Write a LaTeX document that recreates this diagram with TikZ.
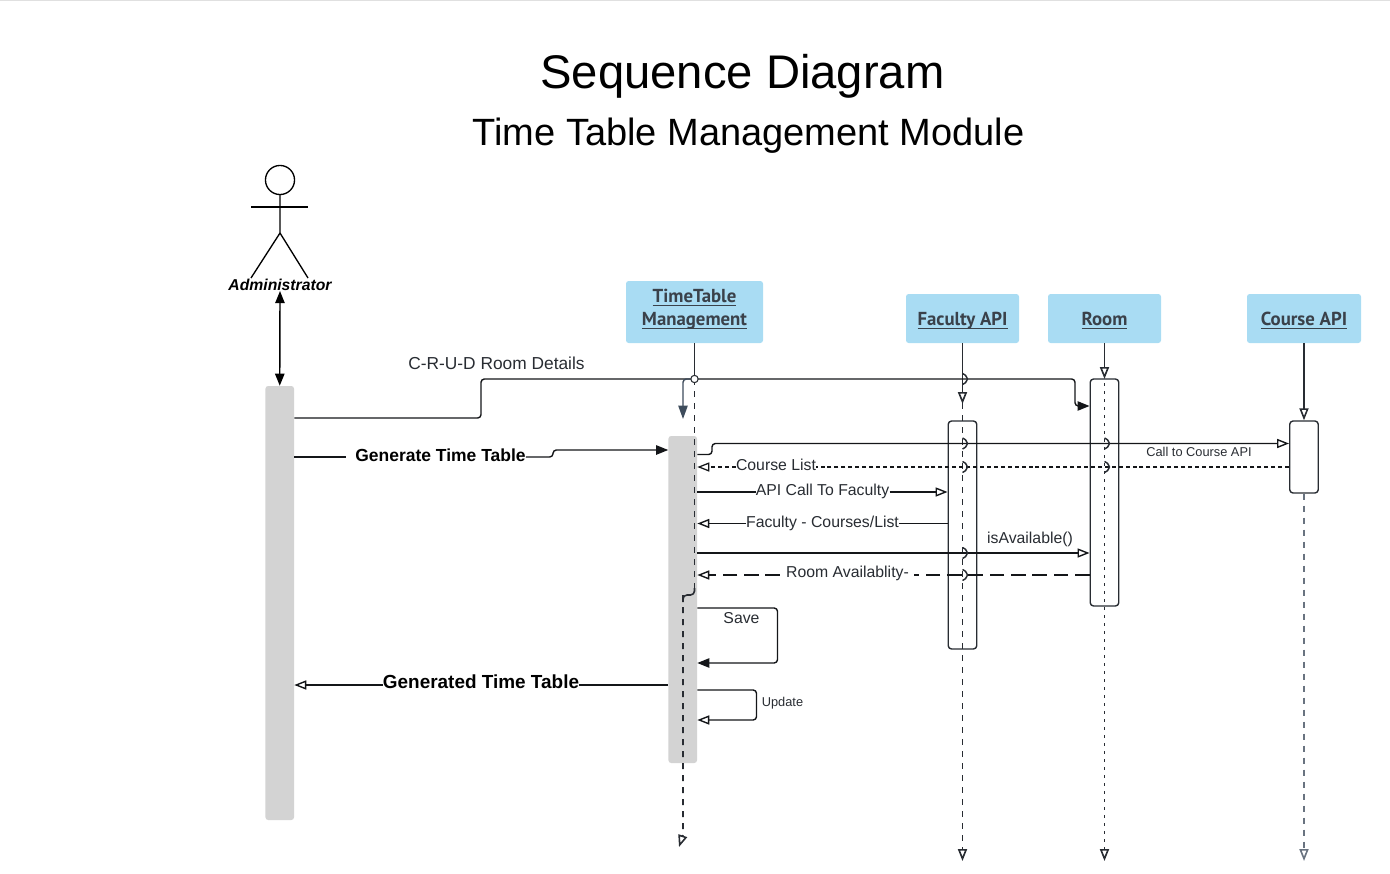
\documentclass[tikz,border=0pt]{standalone}
\usepackage{fontspec}
\setmainfont{Liberation Sans}
\newfontfamily\ptfont{PT Sans}
\usetikzlibrary{arrows.meta,positioning,calc}
\definecolor{laneBlue}{RGB}{169,220,243}
\definecolor{barGray}{RGB}{211,211,211}
\definecolor{inkDark}{RGB}{40,44,50}
\definecolor{laneInk}{RGB}{58,65,74}
\definecolor{slateInk}{RGB}{62,76,92}
\definecolor{courseInk}{RGB}{105,115,128}
\newcommand{\laneul}[2]{\raisebox{#1}[0pt][0pt]{\vtop{\hbox{\smash{#2}}\kern1.6pt\hrule height 0.75pt}}}

\begin{document}
\begin{tikzpicture}[
    x=0.75pt, y=-0.75pt,
    line join=round,
    lanebox/.style={
        rectangle, fill=laneBlue, rounded corners=2pt, inner sep=0pt,
        align=center, text=laneInk, font=\fontsize{14.1}{17.2}\selectfont\ptfont\bfseries
    },
    graybar/.style={
        rectangle, fill=barGray, rounded corners=2pt, inner sep=0pt, minimum width=21.4pt
    },
    openbar/.style={
        rectangle, draw=inkDark, line width=1.05pt, rounded corners=2.5pt, inner sep=0pt, minimum width=21.4pt
    },
    lbl/.style={font=\fontsize{11.85}{14}\selectfont, text=inkDark, inner sep=0pt},
    lblsmall/.style={font=\fontsize{9.6}{11}\selectfont, text=inkDark, inner sep=0pt},
    lblbold/.style={font=\fontsize{13.1}{16}\selectfont\bfseries, text=black, inner sep=0pt},
    msg/.style={line width=1.05pt, draw=inkDark!50!black, rounded corners=2.5pt},
    life/.style={line width=1.2pt, draw=inkDark},
    opentip/.style={-{Triangle[open,fill=white,length=9pt,width=6.8pt]}},
    filltip/.style={-{Triangle[length=9pt,width=7pt]}},
    jump/.style={line width=1.1pt, draw=inkDark}
]
    \useasboundingbox (0,0) rectangle (1390,874);
    \draw [black!12, line width=0.8pt] (0,0.5) -- (1390,0.5);

    % Title
    \node [font=\fontsize{35.4}{40}\selectfont, inner sep=0pt] (title) at (742.5,76) {Sequence Diagram};
    \node [font=\fontsize{28.5}{34}\selectfont, inner sep=0pt] (subtitle) at (748.5,135.5) {Time Table Management Module};

    % Actor
    \node [circle, draw=black, line width=1pt, minimum size=21.8pt, inner sep=0pt] (head) at (280,180) {};
    \coordinate (hip) at (280,233);
    \coordinate (armL) at (251,207);
    \coordinate (armR) at (308,207);
    \coordinate (legL) at (251,278);
    \coordinate (legR) at (308,278);
    \draw [line width=1pt] (head.south) -- (hip) -- (legL);
    \draw [line width=1pt] (hip) -- (legR);
    \draw [line width=1pt] (armL) -- (armR);
    \node [font=\fontsize{11.8}{14}\selectfont\bfseries\itshape, inner sep=0pt] (actor) at (280,285) {Administrator};

    % Gray activation bars
    \node [graybar, minimum height=325.5pt] (admbar) at (279.75,603) {};
    \node [graybar, minimum height=245.25pt] (ttbar) at (682.75,599.5) {};

    % Lane headers
    \node [lanebox, minimum width=102.75pt, minimum height=46.5pt] (ttbox) at (694.5,312) {\laneul{-1.5pt}{TimeTable}\\\laneul{-1.5pt}{Management}};
    \node [lanebox, minimum width=84.75pt, minimum height=36.75pt] (facbox) at (962.5,318.5) {\laneul{-5.6pt}{Faculty API}};
    \node [lanebox, minimum width=84.75pt, minimum height=36.75pt] (roombox) at (1104.5,318.5) {\laneul{-5.6pt}{Room}};
    \node [lanebox, minimum width=85.5pt, minimum height=36.75pt] (coursebox) at (1304,318.5) {\laneul{-5.6pt}{Course API}};

    % White activation bars
    \node [openbar, minimum height=171pt] (facbar) at (962.5,535) {};
    \node [openbar, minimum height=170.25pt] (roombar) at (1104.5,492.5) {};
    \node [openbar, minimum height=54pt] (coursebar) at (1304,457) {};

    % Rows of the messages
    \coordinate (rowTop) at (0,379);
    \coordinate (rowCrud) at (0,418);
    \coordinate (rowGen) at (0,457);
    \coordinate (rowGenIn) at (0,450);
    \coordinate (rowCallOut) at (0,454.5);
    \coordinate (rowCall) at (0,443.5);
    \coordinate (rowList) at (0,467);
    \coordinate (rowApi) at (0,492);
    \coordinate (rowFac) at (0,523.5);
    \coordinate (rowAvail) at (0,553);
    \coordinate (rowRoom) at (0,575);
    \coordinate (rowSave) at (0,608);
    \coordinate (rowSaved) at (0,663);
    \coordinate (rowDone) at (0,685);
    \coordinate (rowUpd) at (0,690);
    \coordinate (rowUpdd) at (0,720);
    \coordinate (rowEnd) at (0,861);

    % Life lines
    \coordinate (ttknee) at (694.5,595);
    \coordinate (ttfoot) at (683,835);
    \coordinate (ttend) at (679,847);
    \coordinate (ttdrop) at (683,383);
    \coordinate (ttcall) at (683,419);
    \draw [life, dash pattern=on 4.5pt off 4.5pt, opentip] (ttknee -| ttfoot) -- (ttfoot) -- (ttend);
    \draw [life, dash pattern=on 4.5pt off 4.5pt] (ttbox.south) -- (ttknee);
    \draw [life, rounded corners=3pt] ($(ttknee)+(0,-7)$) -- (ttknee) -- (ttknee -| ttfoot) -- ($(ttknee -| ttfoot)+(0,7)$);
    \draw [life] (ttbox.south) -- (ttbox.south |- rowTop);
    \draw [life, dash pattern=on 4.5pt off 4.5pt, opentip] (facbox.south) -- (facbox.south |- rowEnd);
    \draw [life, opentip] (facbox.south) -- ($(facbox.south |- rowTop)+(0,25)$);
    \draw [life, dash pattern=on 1.8pt off 4.2pt, opentip] (roombox.south) -- (roombox.south |- rowEnd);
    \draw [life, opentip] (roombox.south) -- (roombox.south |- rowTop);
    \draw [life, opentip] (coursebox.south) -- (coursebar.north);
    \draw [line width=1.2pt, draw=courseInk, dash pattern=on 4.5pt off 4.5pt, opentip] (coursebar.south) -- (coursebar.south |- rowEnd);

    % Actor to its bar
    \draw [line width=1.05pt, {Triangle[length=9pt,width=7pt]}-{Triangle[length=9pt,width=7pt]}] (actor.south) -- (admbar.north);

    % C-R-U-D message
    \coordinate (crudup) at (481,418);
    \coordinate (cruddown) at (1075,406);
    \draw [msg, filltip] (admbar.east |- rowCrud) -- (crudup) -- (crudup |- rowTop) -- (cruddown |- rowTop) -- (cruddown) -- (roombar.west |- cruddown);
    \node [lbl, font=\fontsize{13}{15}\selectfont] (crudtxt) at (496.5,363) {C-R-U-D Room Details};
    \node [circle, draw=inkDark, line width=0.8pt, fill=white, minimum size=5.5pt, inner sep=0pt] (ttjump) at (ttbox.south |- rowTop) {};
    \draw [line width=1.05pt, draw=slateInk, rounded corners=2.5pt, -{Triangle[length=10pt,width=7pt]}] (ttjump.west) -- (ttjump.west -| ttdrop) -- (ttcall);

    % Generate Time Table
    \node [lblbold, fill=white] (gentxt) at (440.5,455) {Generate Time Table};
    \coordinate (genstep) at (553,457);
    \draw [msg] (admbar.east |- rowGen) -- ($(gentxt.west |- rowGen)+(-9,0)$);
    \draw [msg, filltip] (gentxt.east |- rowGen) -- (genstep) -- (genstep |- rowGenIn) -- (ttbar.west |- rowGenIn);

    % Call to Course API
    \coordinate (callstep) at (712,454.5);
    \draw [msg, opentip] (ttbar.east |- rowCallOut) -- (callstep) -- (callstep |- rowCall) -- (coursebar.west |- rowCall);
    \node [lblsmall] (calltxt) at (1199,452) {Call to Course API};

    % Course List
    \node [lbl, fill=white] (listtxt) at (776,465) {Course List};
    \draw [msg, line width=0.95pt, dash pattern=on 3pt off 2.2pt] (coursebar.west |- rowList) -- (listtxt.east |- rowList);
    \draw [msg, line width=0.95pt, dash pattern=on 3pt off 2.2pt, opentip] (listtxt.west |- rowList) -- (ttbar.east |- rowList);

    % API Call To Faculty
    \node [lbl, fill=white] (apitxt) at (822.5,491) {API Call To Faculty};
    \draw [msg] (ttbar.east |- rowApi) -- (apitxt.west |- rowApi);
    \draw [msg, opentip] (apitxt.east |- rowApi) -- (facbar.west |- rowApi);

    % Faculty - Courses/List
    \node [lbl, fill=white] (factxt) at (822.5,523) {Faculty - Courses/List};
    \draw [msg] (facbar.west |- rowFac) -- (factxt.east |- rowFac);
    \draw [msg, opentip] (factxt.west |- rowFac) -- (ttbar.east |- rowFac);

    % isAvailable()
    \draw [msg, opentip] (ttbar.east |- rowAvail) -- (roombar.west |- rowAvail);
    \node [lbl] (availtxt) at (1030,539) {isAvailable()};

    % Room Availablity
    \node [lbl, fill=white] (roomtxt) at (847.5,573) {Room Availablity-};
    \draw [msg, dash pattern=on 11pt off 5pt] (roombar.west |- rowRoom) -- ($(roomtxt.east |- rowRoom)+(5,0)$);
    \draw [msg, dash pattern=on 11pt off 5pt, opentip] ($(roomtxt.west |- rowRoom)+(-6,0)$) -- (ttbar.east |- rowRoom);

    % Crossings on the lanes
    \foreach \lane/\row in {facbox/rowTop, facbar/rowCall, facbar/rowList, facbar/rowAvail, facbar/rowRoom, roombar/rowCall, roombar/rowList} {
        \coordinate (hopA) at ($(\lane.center |- \row)+(0,-5.5)$);
        \coordinate (hopB) at ($(\lane.center |- \row)+(0,5.5)$);
        \coordinate (hopTip) at ($(\lane.center |- \row)+(5,0)$);
        \draw [jump] (hopA) .. controls ($(hopA)+(3.5,0.5)$) and ($(hopTip)+(-2,-3)$) .. (hopTip) .. controls ($(hopTip)+(-2,3)$) and ($(hopB)+(3.5,-0.5)$) .. (hopB);
    }

    % Save
    \coordinate (saveout) at (777.5,608);
    \draw [msg, filltip] (ttbar.east |- rowSave) -- (saveout) -- (saveout |- rowSaved) -- (ttbar.east |- rowSaved);
    \node [lbl] (savetxt) at (741.5,618.5) {Save};

    % Generated Time Table
    \node [lblbold, font=\fontsize{14.2}{16}\selectfont\bfseries, fill=white] (donetxt) at (481,682) {Generated Time Table};
    \draw [msg] (ttbar.west |- rowDone) -- (donetxt.east |- rowDone);
    \draw [msg, opentip] (donetxt.west |- rowDone) -- (admbar.east |- rowDone);

    % Update
    \coordinate (updout) at (756.5,690);
    \draw [msg, opentip] (ttbar.east |- rowUpd) -- (updout) -- (updout |- rowUpdd) -- (ttbar.east |- rowUpdd);
    \node [lblsmall] (updtxt) at (782.5,703.5) {Update};

\end{tikzpicture}
\end{document}
